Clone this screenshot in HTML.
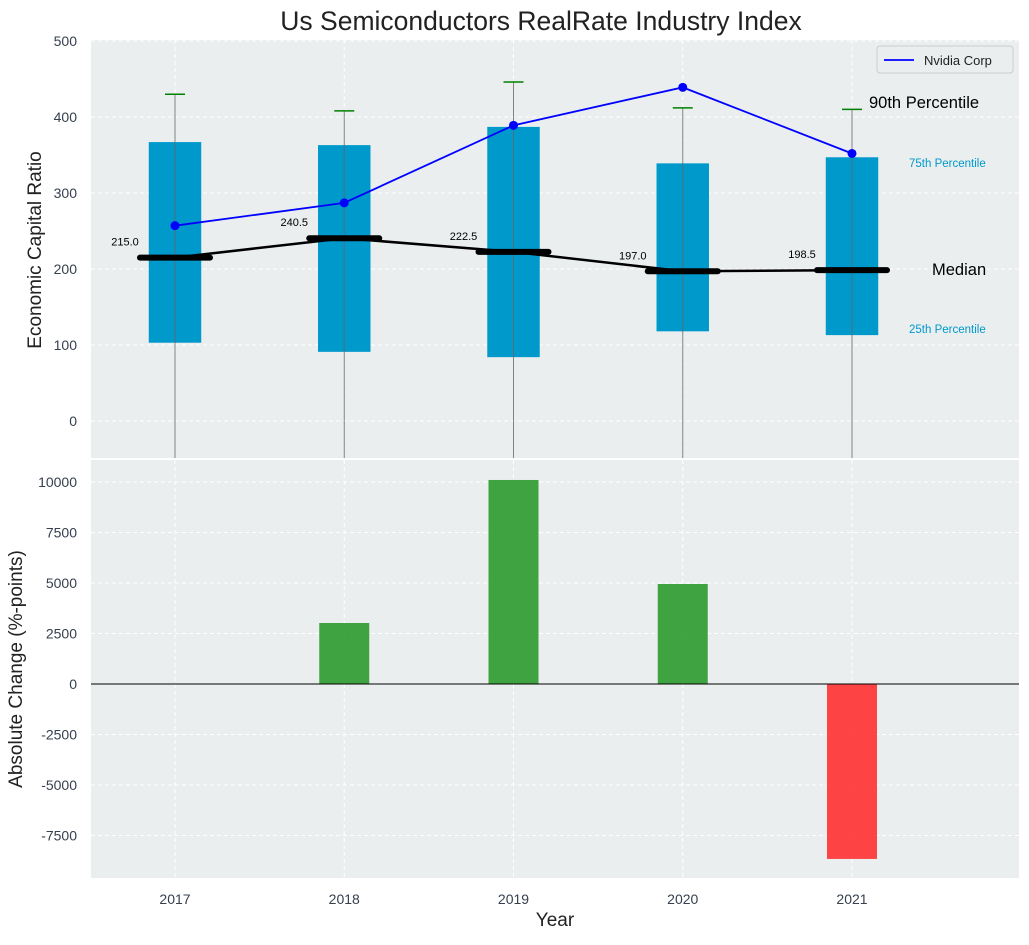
<!DOCTYPE html>
<html><head><meta charset="utf-8"><style>
body{margin:0;background:#fff;font-family:"Liberation Sans",sans-serif}
svg text{font-family:"Liberation Sans",sans-serif}
</style></head><body>
<svg id="c" width="1029" height="940" xmlns="http://www.w3.org/2000/svg"></svg>
<script>
const years=[2017,2018,2019,2020,2021];
const q1=[103,91,84,118,113];
const q3=[367,363,387,339,347];
const p90=[430,408,446,412,410];
const medians=[215,240.5,222.5,197,198.5];
const nvidia=[257,287,389,439,352];
const changes=[0,3020,10100,4950,-8660];
const topTicks=[0,100,200,300,400,500];
const botTicks=[-7500,-5000,-2500,0,2500,5000,7500,10000];

const NS="http://www.w3.org/2000/svg",svg=document.getElementById('c');
function el(t,a,txt){const e=document.createElementNS(NS,t);for(const k in a)e.setAttribute(k,a[k]);if(txt!==undefined)e.textContent=txt;svg.appendChild(e);return e;}
const L=91,R=1019;
const x=v=>175+(v-2017)*169.25;
const yT=v=>421-v*0.76;
const yB=v=>684-v*0.0202;
const T0=40,T1=458,B0=460,B1=878;
const TC='#36404e';

let e=el('rect',{x:L,y:T0,width:R-L,height:T1-T0,fill:'#eaeeef'});

e=el('rect',{x:L,y:B0,width:R-L,height:B1-B0,fill:'#eaeeef'});


topTicks.forEach(t=>{const y=yT(t);
 e=el('line',{x1:L,x2:R,y1:y,y2:y,stroke:'#fff','stroke-dasharray':'4,3'});
 e=el('text',{x:77,y:y+5,'text-anchor':'end','font-size':14,fill:TC},t);});
botTicks.forEach(t=>{const y=yB(t);
 e=el('line',{x1:L,x2:R,y1:y,y2:y,stroke:'#fff','stroke-dasharray':'4,3'});
 e=el('text',{x:77,y:y+5,'text-anchor':'end','font-size':14,fill:TC},t);});
years.forEach(yr=>{const xx=x(yr);
 e=el('line',{x1:xx,x2:xx,y1:T0,y2:T1,stroke:'#fff','stroke-dasharray':'4,3'});
 e=el('line',{x1:xx,x2:xx,y1:B0,y2:B1,stroke:'#fff','stroke-dasharray':'4,3'});
 e=el('text',{x:xx,y:904,'text-anchor':'middle','font-size':14,fill:TC},yr);});

const bw=0.155*169.25;
years.forEach((yr,i)=>{const xx=x(yr);
 e=el('rect',{x:xx-bw,y:yT(q3[i]),width:2*bw,height:yT(q1[i])-yT(q3[i]),fill:'#0099cc'});
 e=el('line',{x1:xx,x2:xx,y1:yT(p90[i]),y2:T1,stroke:'#666','stroke-width':1,opacity:0.8});
 e=el('line',{x1:xx-10,x2:xx+10,y1:yT(p90[i]),y2:yT(p90[i]),stroke:'#008000','stroke-width':1.5});
});
e=el('polyline',{points:years.map((yr,i)=>x(yr)+','+yT(medians[i])).join(' '),fill:'none',stroke:'#000','stroke-width':2.5});

years.forEach((yr,i)=>{const xx=x(yr),y=yT(medians[i]);
 e=el('line',{x1:xx-35,x2:xx+35,y1:y,y2:y,stroke:'#000','stroke-width':6,'stroke-linecap':'round'});
 e=el('text',{x:xx-50,y:y-12,'text-anchor':'middle','font-size':11,fill:'#000'},medians[i].toFixed(1));});
e=el('polyline',{points:years.map((yr,i)=>x(yr)+','+yT(nvidia[i])).join(' '),fill:'none',stroke:'#0000ff','stroke-width':1.8});

years.forEach((yr,i)=>{e=el('circle',{cx:x(yr),cy:yT(nvidia[i]),r:4.5,fill:'#0000ff'});});

e=el('text',{x:869,y:108,'font-size':16.5,fill:'#000'},'90th Percentile');
e=el('text',{x:909,y:167,'font-size':11.5,fill:'#0099cc'},'75th Percentile');
e=el('text',{x:932,y:275,'font-size':16.5,fill:'#000'},'Median');
e=el('text',{x:909,y:333,'font-size':11.5,fill:'#0099cc'},'25th Percentile');

e=el('rect',{x:877,y:46,width:136,height:27,fill:'#eaeeef',stroke:'#ccc',rx:3});
e=el('line',{x1:884,x2:914,y1:60,y2:60,stroke:'#0000ff','stroke-width':1.8});
e=el('text',{x:924,y:65,'font-size':13,fill:'#222'},'Nvidia Corp');

years.forEach((yr,i)=>{const v=changes[i];if(v===0)return;const xx=x(yr);
 const y0=yB(Math.max(v,0)),y1=yB(Math.min(v,0));
 e=el('rect',{x:xx-25,y:y0,width:50,height:y1-y0,fill:v>0?'#2e9a2e':'#ff3030',opacity:0.9});});
e=el('line',{x1:L,x2:R,y1:yB(0),y2:yB(0),stroke:'#000','stroke-width':1});

e=el('text',{x:541,y:30,'text-anchor':'middle','font-size':26.5,fill:'#222'},'Us Semiconductors RealRate Industry Index');
e=el('text',{x:41,y:250,'text-anchor':'middle','font-size':19,fill:'#222',transform:'rotate(-90 41 250)'},'Economic Capital Ratio');
e=el('text',{x:22,y:669,'text-anchor':'middle','font-size':19,fill:'#222',transform:'rotate(-90 22 669)'},'Absolute Change (%-points)');
e=el('text',{x:555,y:926,'text-anchor':'middle','font-size':19,fill:'#222'},'Year');
</script>
</body></html>
